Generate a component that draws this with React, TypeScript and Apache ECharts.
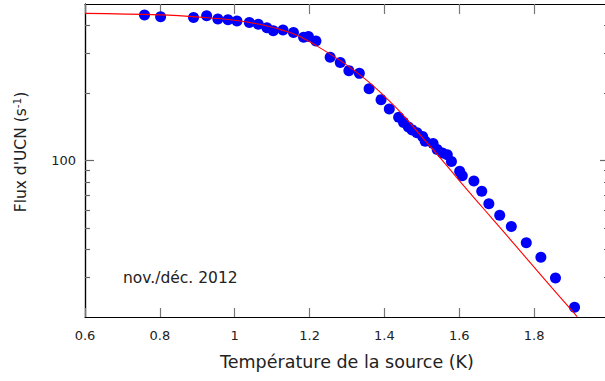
import React, { useEffect, useRef } from "react";
import * as echarts from "echarts";

// Measured points: source temperature (K) and UCN flux (s^-1)
const tempK = [0.759, 0.802, 0.890, 0.925, 0.955, 0.982, 1.006, 1.039, 1.063, 1.086, 1.103, 1.129, 1.157, 1.184, 1.197, 1.217, 1.255, 1.282, 1.305, 1.333, 1.359, 1.391, 1.413, 1.438, 1.451, 1.464, 1.474, 1.487, 1.502, 1.509, 1.530, 1.541, 1.555, 1.568, 1.579, 1.601, 1.608, 1.639, 1.660, 1.679, 1.708, 1.739, 1.779, 1.818, 1.857, 1.908];
const fluxUCN = [447, 439, 435, 443, 429, 425, 420, 413, 406, 392, 380, 383, 373, 355, 358, 342, 289, 274, 252, 245, 209, 187, 170, 156, 148, 141, 137, 133, 128, 122, 119, 112, 108, 106, 99, 89.5, 85.5, 81, 72.9, 64.1, 56.9, 50.7, 42.9, 37.0, 29.9, 22.1];

// Fit curve
const fitT = [0.6, 0.8, 0.907, 1.0, 1.081, 1.134, 1.174, 1.228, 1.295, 1.353, 1.396, 1.442, 1.5, 1.557, 1.6, 1.664, 1.72, 1.79, 1.85, 1.915];
const fitF = [454, 447, 437, 423, 401, 379, 358, 318.5, 270, 228, 196.5, 165, 127.6, 99.1, 81.3, 61.2, 47.7, 34.9, 26.7, 20.1];

// Axis ticks
const yMajorTicks = [100];
const yMinorTicks = [30, 40, 50, 60, 70, 80, 90, 200, 300, 400];

const FONT = "DejaVu Sans";

export default function App() {
  const ref = useRef<HTMLDivElement>(null);
  useEffect(() => {
    if (!ref.current) return;
    const chart = echarts.init(ref.current, undefined, { renderer: "svg" });
    const yBase = (position: "left" | "right", ticks: number[], len: number, labels: boolean) => ({
      type: "log",
      logBase: 10,
      min: 20,
      max: 500,
      position,
      axisLine: { show: true, lineStyle: { color: "#000", width: 1.2 } },
      axisTick: { show: true, inside: true, length: len, customValues: ticks, lineStyle: { color: "#666", width: 1.2 } },
      axisLabel: labels
        ? { show: true, customValues: ticks, fontFamily: FONT, fontSize: 13, color: "#222", margin: 9, formatter: (v: number) => String(Math.round(v)) }
        : { show: false },
      splitLine: { show: false },
      minorTick: { show: false },
    });
    const pts = tempK.map((t, i) => [t, fluxUCN[i]]);
    const fit = fitT.map((t, i) => [t, fitF[i]]);
    chart.setOption({
      animation: false,
      grid: { left: 85, top: 4, width: 524, height: 313, outerBoundsMode: "none", containLabel: false },
      xAxis: [
        {
          type: "value", position: "bottom", min: 0.6, max: 2.0, interval: 0.2,
          axisLine: { show: true, lineStyle: { color: "#000", width: 1.2 } },
          axisTick: { show: true, inside: true, length: 9, lineStyle: { color: "#777", width: 1.2 } },
          axisLabel: { fontFamily: FONT, fontSize: 13, color: "#222", margin: 12, showMaxLabel: false },
          splitLine: { show: false },
          name: "Température de la source (K)", nameLocation: "middle", nameGap: 36,
          nameTextStyle: { fontFamily: FONT, fontSize: 17.5, color: "#222" },
        },
        {
          type: "value", position: "top", min: 0.6, max: 2.0, interval: 0.2,
          axisLine: { show: true, lineStyle: { color: "#000", width: 1.2 } },
          axisTick: { show: true, inside: true, length: 10, lineStyle: { color: "#777", width: 1.2 } },
          axisLabel: { show: false },
          splitLine: { show: false },
        },
      ],
      yAxis: [
        yBase("left", yMajorTicks, 9, true),
        yBase("left", yMinorTicks, 5, false),
        yBase("right", yMajorTicks, 9, false),
        yBase("right", yMinorTicks, 5, false),
      ],
      series: [
        {
          type: "scatter", xAxisIndex: 0, yAxisIndex: 0, data: pts,
          symbol: "circle", symbolSize: 11,
          itemStyle: { color: "#0000fa", opacity: 1 }, z: 2,
        },
        {
          type: "line", xAxisIndex: 0, yAxisIndex: 0, data: fit,
          showSymbol: false, smooth: 0.4,
          lineStyle: { color: "#ff0000", width: 1.1 }, z: 3,
        },
      ],
      graphic: [
        {
          type: "text", x: 21, y: 152, rotation: Math.PI / 2,
          style: {
            text: "Flux d'UCN (s{sup|-1})",
            fontFamily: FONT, fontSize: 15.5, fill: "#222",
            align: "center", verticalAlign: "middle",
            rich: { sup: { fontFamily: FONT, fontSize: 10.5, fill: "#222", verticalAlign: "bottom", padding: [0, 0, 8, 0] } },
          },
        },
        {
          type: "text", x: 123, y: 277.5,
          style: {
            text: "nov./déc. 2012", fontFamily: FONT, fontSize: 15.5, fill: "#222",
            align: "left", verticalAlign: "middle",
          },
        },
      ],
    });
    return () => chart.dispose();
  }, []);
  return <div ref={ref} style={{ width: 605, height: 381, position: "absolute", left: 0, top: 0 }} />;
}
